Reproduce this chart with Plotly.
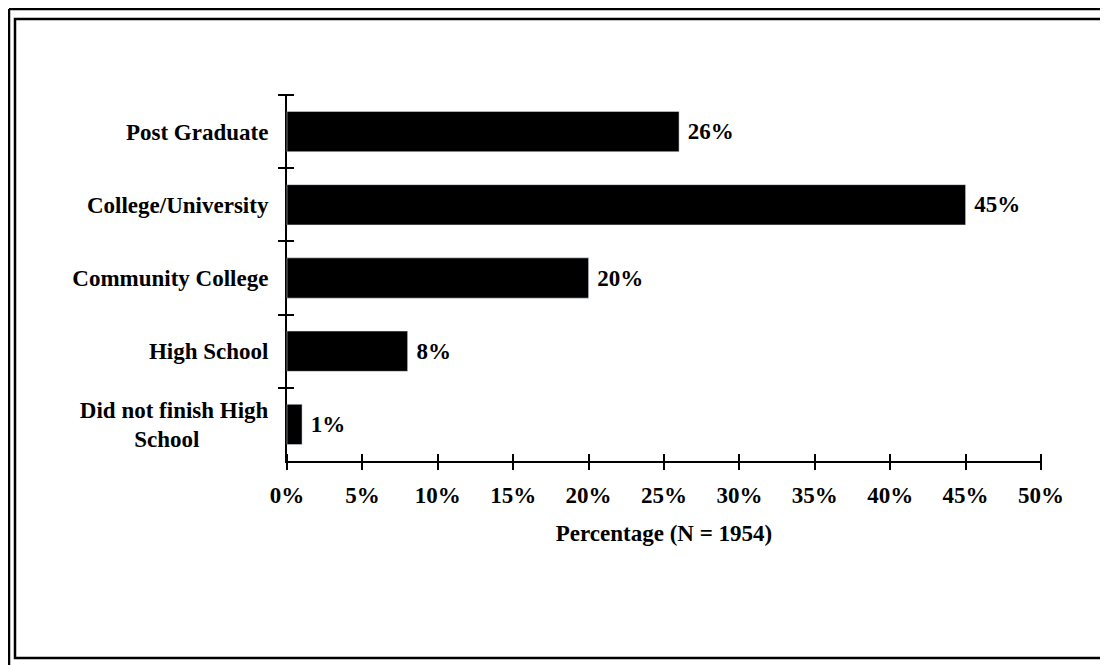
import plotly.graph_objects as go

categories = ["Post Graduate", "College/University", "Community College", "High School",
              "Did not finish High<br>School" + "\u00a0" * 12]
values = [26, 45, 20, 8, 1]
x_ticks = [0, 5, 10, 15, 20, 25, 30, 35, 40, 45, 50]
x_tick_labels = ["0%", "5%", "10%", "15%", "20%", "25%", "30%", "35%", "40%", "45%", "50%"]
x_title = "Percentage (N = 1954)"

FONT = dict(family="Liberation Serif, Times New Roman, serif", size=23, color="black", weight="bold")

fig = go.Figure()
fig.add_trace(go.Bar(
    x=values, y=categories, orientation="h",
    marker=dict(color="black", line=dict(width=0)),
    text=["\u00a0" + f"{v}%" for v in values], textposition="outside",
    textfont=FONT, cliponaxis=False, hoverinfo="skip", width=0.55,
))
# invisible twin on a slightly larger coincident subplot: draws the inner half of the crossing ticks
fig.add_trace(go.Bar(
    x=values, y=categories, orientation="h", xaxis="x2", yaxis="y2",
    marker=dict(color="rgba(0,0,0,0)"), hoverinfo="skip", width=0.55, showlegend=False,
))

OFF = 8          # page body margin
PAD = 3          # extra pixels around the axes for the twin subplot
W, H = 1108 - OFF, 665 - OFF
L, R, T, B = 287 - OFF, 1041 - OFF, 95 - OFF, 461 - OFF   # main axes box (figure px)
PL, PR, PT, PB = L - PAD, R + PAD, T - PAD, B + PAD        # plot area incl. pad
PW, PH = PR - PL, PB - PT

XMAX = 50
xpad = PAD * XMAX / (R - L)
ypad = PAD * len(categories) / (B - T)
dx = PAD / PW
dy = PAD / PH


def px(x):
    return (x - OFF - PL) / PW


def py(y):
    return (PB - (y - OFF)) / PH


axis_common = dict(showgrid=False, zeroline=False, linecolor="black", linewidth=2,
                   tickcolor="black", tickwidth=2)

fig.update_layout(
    width=W, height=H,
    margin=dict(l=PL, r=W - PR, t=PT, b=H - PB, autoexpand=False),
    paper_bgcolor="white", plot_bgcolor="rgba(0,0,0,0)",
    font=FONT, showlegend=False, bargap=0.45,
    xaxis=dict(range=[0, XMAX], tickvals=x_ticks, ticktext=x_tick_labels, showline=True,
               ticks="outside", ticklen=7, ticklabelstandoff=5, domain=[dx, 1 - dx], anchor="y",
               title=dict(text=x_title, font=FONT, standoff=18), **axis_common),
    yaxis=dict(autorange="reversed", showline=True, ticks="outside", ticklen=7,
               tickson="boundaries", ticklabelstandoff=12, domain=[dy, 1 - dy], anchor="x",
               **axis_common),
    xaxis2=dict(range=[-xpad, XMAX + xpad], tickvals=x_ticks, anchor="y2", side="bottom",
                domain=[0, 1], ticks="inside", ticklen=7 + PAD, showticklabels=False,
                showline=False, **axis_common),
    yaxis2=dict(range=[len(categories) - 0.5 + ypad, -0.5 - ypad], anchor="x2", side="left",
                domain=[0, 1], ticks="inside", ticklen=7 + PAD, tickson="boundaries",
                showticklabels=False, showline=False, **axis_common),
)

# page border (double frame of the scanned figure)
fig.add_shape(type="rect", xref="paper", yref="paper",
              x0=px(15), x1=px(1107), y0=py(658), y1=py(19),
              line=dict(color="black", width=2.5), layer="below")
fig.add_shape(type="line", xref="paper", yref="paper",
              x0=px(9), x1=px(9), y0=py(665), y1=py(9), line=dict(color="black", width=2.5))
fig.add_shape(type="line", xref="paper", yref="paper",
              x0=px(9), x1=px(1108), y0=py(9), y1=py(9), line=dict(color="black", width=2.5))

fig.write_html("out.html")
